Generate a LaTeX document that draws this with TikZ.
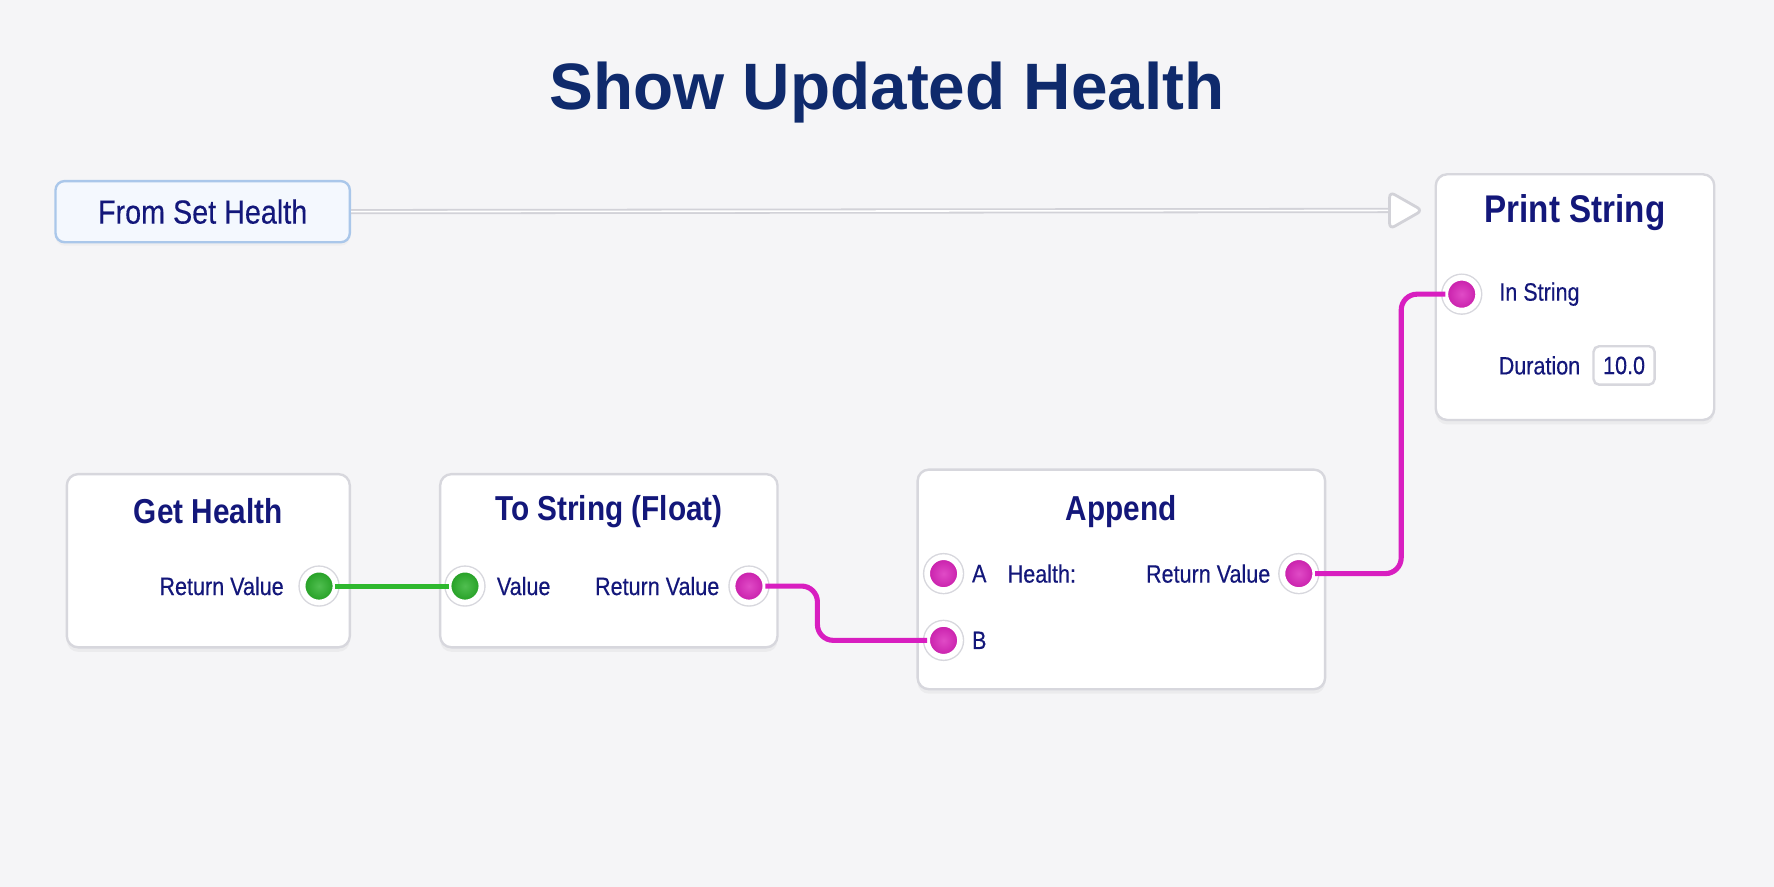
\documentclass[tikz,border=0pt]{standalone}
\usepackage{fontspec}
\setmainfont{Liberation Sans}[FakeStretch=0.86, UprightFeatures={FakeBold=0.35}]
\newfontfamily\titlefont{Liberation Sans}
\usepackage{tikz}
\usetikzlibrary{positioning}
\usetikzlibrary{shadows}
\usetikzlibrary{shapes.geometric}
\definecolor{bg}{HTML}{F5F5F7}
\definecolor{navy}{HTML}{13177A}
\definecolor{titleblue}{HTML}{0F2A6C}
\definecolor{boxline}{HTML}{D7D7DD}
\definecolor{execline}{HTML}{D2D2D8}
\definecolor{eventfill}{HTML}{F4F8FE}
\definecolor{eventline}{HTML}{AAC7EA}
\definecolor{pinkpin}{HTML}{D81EB8}
\definecolor{pinkwire}{HTML}{D81EC0}
\definecolor{greenpin}{HTML}{24AE24}
\definecolor{greenwire}{HTML}{2EB82E}
\tikzstyle{bp node}=[draw=boxline, fill=white, rounded corners=0.1cm, line width=0.6pt,
               anchor=north west, inner sep=0,
               drop shadow={opacity=0.08, shadow xshift=0cm, shadow yshift=-0.04cm}]
\tikzstyle{event node}=[draw=eventline, fill=eventfill, rounded corners=0.08cm, line width=0.6pt,
               anchor=north west, inner sep=0, text=navy, font=\fontsize{8.4}{10}\selectfont,
               drop shadow={opacity=0.06, shadow xshift=0cm, shadow yshift=-0.03cm}]
\tikzstyle{bp title}=[text=navy, font=\bfseries\fontsize{8.7}{10}\selectfont, inner sep=0]
\tikzstyle{port text}=[text=navy, font=\fontsize{6.3}{7}\selectfont, inner sep=0]
\tikzstyle{port}=[circle, minimum size=0.29cm, inner sep=0, outer sep=0,
               draw=white, line width=0.05cm, preaction={draw=boxline, line width=0.075cm}]
\tikzstyle{pink port}=[port, inner color=pinkpin!80!white, outer color=pinkpin!92!black]
\tikzstyle{green port}=[port, inner color=greenpin!80!white, outer color=greenpin!90!black]
\tikzstyle{pink wire}=[draw=pinkwire, line width=0.045cm, rounded corners=0.14cm]
\tikzstyle{green wire}=[draw=greenwire, line width=0.045cm]
\tikzstyle{exec wire}=[draw=execline, double=white, double distance=0.014cm, line width=0.45pt]
\tikzstyle{exec tip}=[isosceles triangle, isosceles triangle stretches, minimum width=0.33cm,
               minimum height=0.29cm, inner sep=0, fill=white, draw=execline, line width=0.7pt,
               rounded corners=0.05cm]
\tikzstyle{value box}=[draw=boxline, fill=white, rounded corners=0.05cm, line width=0.6pt,
               minimum width=0.54cm, minimum height=0.34cm, inner sep=0, text=navy,
               font=\fontsize{6.3}{7}\selectfont]

\begin{document}
\begin{tikzpicture}[x=0.01cm, y=-0.01cm]

\fill[bg] (0,0) rectangle (1568,784);
\useasboundingbox (0,0) rectangle (1568,784);

\node[text=titleblue, font=\titlefont\bfseries\fontsize{16.5}{20}\selectfont] (title) at (784,82) {Show Updated Health};

% event and print node
\node[event node, minimum width=2.6cm, minimum height=0.54cm] (evt) at (48,159) {From Set Health};
\node[bp node, minimum width=2.46cm, minimum height=2.17cm] (ps) at (1268,153) {};
\node[bp title, font=\bfseries\fontsize{9.7}{11}\selectfont] (psT) at ([yshift=-0.35cm]ps.north) {Print String};
\node[pink port] (psIn) at (1292,260) {};
\node[port text, right=0.18cm of psIn] (psInL) {In String};
\node[port text, anchor=west] (dur) at (1324,323) {Duration};
\node[value box, right=0.1cm of dur] (durVal) {10.0};
\node[exec tip, anchor=west] (psExec) at (1227,186) {};
\draw[exec wire] (evt.east) -- (psExec.west);

% lower row
\node[bp node, minimum width=2.5cm, minimum height=1.53cm] (gh) at (58,418) {};
\node[bp title] (ghT) at ([yshift=-0.34cm]gh.north) {Get Health};
\node[green port] (ghRV) at (282,518) {};
\node[port text, left=0.16cm of ghRV] (ghRVL) {Return Value};

\node[bp node, minimum width=2.98cm, minimum height=1.53cm] (ts) at (388,418) {};
\node[bp title] (tsT) at ([yshift=-0.34cm]ts.north) {To String (Float)};
\node[green port] (tsV) at (411,518) {};
\node[port text, right=0.13cm of tsV] (tsVL) {Value};
\node[pink port] (tsRV) at (662,518) {};
\node[port text, left=0.11cm of tsRV] (tsRVL) {Return Value};

\node[bp node, minimum width=3.6cm, minimum height=1.94cm] (app) at (810,414) {};
\node[bp title] (appT) at ([yshift=-0.38cm]app.north) {Append};
\node[pink port] (appA) at (834,507) {};
\node[port text, right=0.1cm of appA] (appAL) {A};
\node[port text, anchor=west] (appAV) at (890,507) {Health:};
\node[pink port] (appB) at (834,566) {};
\node[port text, right=0.1cm of appB] (appBL) {B};
\node[pink port] (appRV) at (1148,507) {};
\node[port text, left=0.1cm of appRV] (appRVL) {Return Value};

% wires
\draw[green wire] (ghRV.east) -- (tsV.west);
\draw[pink wire] (tsRV.east) -- ++(46,0) |- (appB.west);
\draw[pink wire] (appRV.east) -- ++(76,0) |- (psIn.west);
\end{tikzpicture}
\end{document}
